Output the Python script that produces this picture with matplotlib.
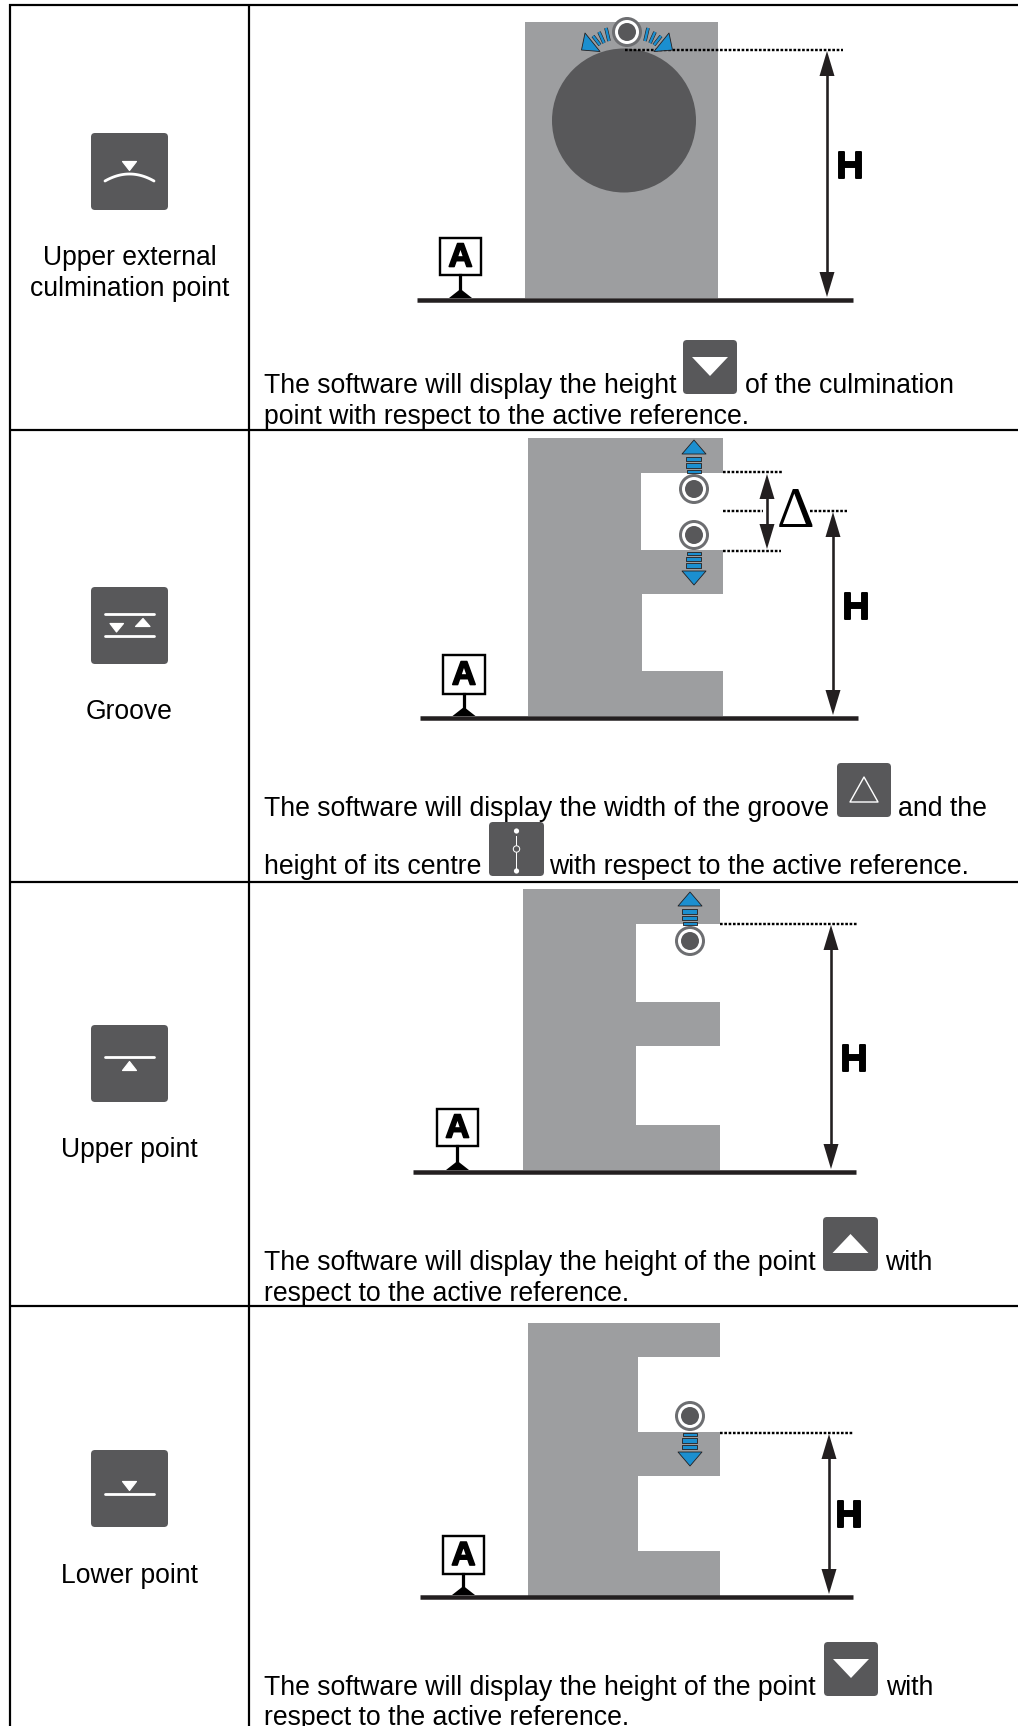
import matplotlib
matplotlib.use("Agg")
import matplotlib.pyplot as plt
import matplotlib.patheffects as pe
from matplotlib.patches import Rectangle, Circle, Polygon, FancyBboxPatch
import numpy as np

W, H_PX = 1018, 1726
GREY, DARK, BLUE, INK = "#9d9ea0", "#58585a", "#1b8fd0", "#231f20"
plt.rcParams["font.family"] = ["Liberation Sans", "DejaVu Sans"]

# table rules
row_lines = [5, 430, 882, 1306]
col_lines = [10.5, 249]
# left column
label_x = 129.5
labels = [("Upper external", 265), ("culmination point", 296), ("Groove", 719), ("Upper point", 1157), ("Lower point", 1583)]
tool_icon_tops = [133, 587, 1025, 1450]
# body text: (text, x, baseline)
body = [
    ("The software will display the height", 264, 393),
    ("of the culmination", 745, 393),
    ("point with respect to the active reference.", 264, 424),
    ("The software will display the width of the groove", 264, 816),
    ("and the", 898, 816),
    ("height of its centre", 264, 874),
    ("with respect to the active reference.", 549, 874),
    ("The software will display the height of the point", 264, 1270),
    ("with", 885, 1270),
    ("respect to the active reference.", 264, 1301),
    ("The software will display the height of the point", 264, 1695),
    ("with", 886, 1695),
    ("respect to the active reference.", 264, 1725),
]
# inline icons: (kind, x0, x1, y0, y1)
inline = [
    ("down", 683, 737, 340, 394),
    ("delta", 837, 891, 763, 817),
    ("centre", 489, 544, 822, 876),
    ("up", 823, 878, 1217, 1271),
    ("down", 824, 878, 1642, 1696),
]
# diagrams
blocks = [(525, 718, 22, 298), (528, 723, 438, 716), (523, 720, 889, 1170), (528, 720, 1323, 1596)]
notches = [(641, 723, 473, 550), (642, 723, 594, 671), (636, 720, 924, 1002), (636, 720, 1046, 1125),
           (638, 720, 1357, 1432), (638, 720, 1476, 1551)]
culm_circle = (624, 120.5, 72)
baselines = [(417, 853, 300), (420, 858, 718), (413, 856, 1172), (420, 853, 1597)]
ref_boxes = [(440, 481, 238, 275, 300), (443, 485, 655, 694, 718), (437, 478, 1109, 1146, 1172), (443, 484, 1536, 1574, 1597)]
dotted = [(625, 843, 50), (723, 782, 472), (723, 763, 511), (810, 847, 511), (723, 781, 551), (720, 857, 924), (720, 853, 1433)]
dim_arrows = [(827, 51, 297), (767, 474, 549), (833, 512, 715), (831, 925, 1169), (829, 1434, 1594)]
h_labels = [(850, 168), (856, 609), (854, 1061), (848.5, 1517)]
probes = [(627, 32), (694, 489), (694, 535), (690, 941), (690, 1416)]
probe_arrows = [(694, 440, 1), (694, 585, -1), (690, 892, 1), (690, 1466, -1)]
fan_wedge = [(585, 33), (581.5, 50), (600, 51.5)]
fan_bars = [((593, 36), (600, 45)), ((599, 32), (604, 43)), ((606, 28), (609, 41))]
delta_pos = (795.5, 527)

fig = plt.figure(figsize=(W / 100, H_PX / 100), dpi=100)
ax = fig.add_axes([0, 0, 1, 1])
ax.set_xlim(0, W)
ax.set_ylim(H_PX, 0)
ax.axis("off")
px = 0.72

def tri(pts, color="white", z=6, **kw):
    ax.add_patch(Polygon(pts, closed=True, facecolor=color, edgecolor=kw.get("ec", "none"),
                         lw=kw.get("lw", 0), joinstyle="round", zorder=z))

def rbox(x0, x1, y0, y1, z=5):
    r = 4
    ax.add_patch(FancyBboxPatch((x0 + r, y0 + r), x1 - x0 - 2 * r, y1 - y0 - 2 * r,
                                boxstyle=f"round,pad={r},rounding_size={r}", fc=DARK, ec="none", zorder=z))

def wline(xs, ys, lw=2.8):
    ax.plot(xs, ys, color="white", lw=lw * px, solid_capstyle="round", zorder=6)

def itri(pts):
    tri(pts, color="white", z=6, ec="white", lw=1.2 * px)

# blocks
for x0, x1, y0, y1 in blocks:
    ax.add_patch(Rectangle((x0, y0), x1 - x0, y1 - y0, fc=GREY, ec="none", zorder=1))
for x0, x1, y0, y1 in notches:
    ax.add_patch(Rectangle((x0, y0), x1 - x0 + 1, y1 - y0, fc="white", ec="none", zorder=2))
cx, cy, cr = culm_circle
ax.add_patch(Circle((cx, cy), cr, fc=DARK, ec="none", zorder=2))

# base lines
for x0, x1, y in baselines:
    ax.plot([x0, x1], [y, y], color=INK, lw=4.5 * px, solid_capstyle="butt", zorder=3)

# reference box
for x0, x1, y0, y1, base in ref_boxes:
    ax.add_patch(Rectangle((x0, y0), x1 - x0, y1 - y0, fc="white", ec="black", lw=2.4 * px, zorder=4))
    xm = (x0 + x1) / 2
    ax.plot([xm, xm], [y1, base - 6], color="black", lw=3.2 * px, zorder=4)
    tri([(xm - 11.5, base - 2), (xm + 11.5, base - 2), (xm, base - 11)], color="black", z=4)
    ax.text(xm, (y0 + y1) / 2 + 1.5, "A", ha="center", va="center", fontsize=24, fontweight="bold", color="black", zorder=5,
            path_effects=[pe.withStroke(linewidth=1.2, foreground="black")])

# dotted guides
for x0, x1, y in dotted:
    ax.plot([x0, x1], [y, y], color="black", lw=2.4 * px, linestyle=(0, (1.1, 0.7)), dash_capstyle="butt", zorder=5)

# dimension arrows
for x, y0, y1 in dim_arrows:
    ax.plot([x, x], [y0 + 8, y1 - 8], color=INK, lw=2.6 * px, solid_capstyle="butt", zorder=5)
    tri([(x, y0), (x - 7.5, y0 + 25), (x + 7.5, y0 + 25)], color=INK, z=5)
    tri([(x, y1), (x - 7.5, y1 - 25), (x + 7.5, y1 - 25)], color=INK, z=5)

for x, y in h_labels:
    ax.text(x, y, "H", ha="center", va="center", fontsize=27, fontweight="bold", color="black", zorder=5,
            path_effects=[pe.withStroke(linewidth=1.4, foreground="black")])

ax.text(delta_pos[0], delta_pos[1], "\u0394", ha="center", va="baseline", fontsize=42, color="black", zorder=5,
        family=["Liberation Serif", "DejaVu Sans"])

# blue probe arrows
for x, tip, d in probe_arrows:
    s = 1 if d == 1 else -1
    for a, b, hw in [(17, 21.5, 7.5), (23.5, 28, 7.5), (30, 33, 7)]:
        xs = [x - hw, x + hw, x + hw, x - hw]
        ys = [tip + s * a, tip + s * a, tip + s * b, tip + s * b]
        tri(list(zip(xs, ys)), color=BLUE, z=6, ec=INK, lw=0.6)
    tri([(x, tip), (x - 12, tip + s * 14), (x + 12, tip + s * 14)], color=BLUE, z=6, ec=INK, lw=0.6)

# fan around the culmination probe
mid = probes[0][0]
for sign in (1, -1):
    tri([(mid + sign * (p[0] - mid), p[1]) for p in fan_wedge], color=BLUE, z=6, ec=INK, lw=0.6)
    for a, b in fan_bars:
        xs = [mid + sign * (a[0] - mid), mid + sign * (b[0] - mid)]
        ys = [a[1], b[1]]
        ax.plot(xs, ys, color=INK, lw=3.6 * px, solid_capstyle="butt", zorder=6)
        ax.plot(xs, ys, color=BLUE, lw=2.4 * px, solid_capstyle="butt", zorder=6)

# probes
for x, y in probes:
    ax.add_patch(Circle((x, y), 15, fc="#6d6e71", ec="none", zorder=7))
    ax.add_patch(Circle((x, y), 12, fc="white", ec="none", zorder=7))
    ax.add_patch(Circle((x, y), 9, fc=DARK, ec="none", zorder=7))

# table rules
for y in row_lines:
    ax.plot([col_lines[0] - 1, W], [y, y], color="black", lw=2.2 * px, solid_capstyle="butt", zorder=9)
for x in col_lines:
    ax.plot([x, x], [row_lines[0] - 1, H_PX], color="black", lw=2.2 * px, solid_capstyle="butt", zorder=9)

# left column icons
for top in tool_icon_tops:
    rbox(91, 168, top, top + 77)
t = tool_icon_tops
u = np.linspace(-1, 1, 41)
wline(129.5 + 24.5 * u, t[0] + 48 - 7 * (1 - u ** 2))
itri([(122.5, t[0] + 28.5), (136.5, t[0] + 28.5), (129.5, t[0] + 37.5)])
wline([105, 154], [t[1] + 27, t[1] + 27])
wline([105, 154], [t[1] + 49, t[1] + 49])
itri([(110, t[1] + 36.5), (123.5, t[1] + 36.5), (116.5, t[1] + 45)])
itri([(135.5, t[1] + 39.5), (150, t[1] + 39.5), (143, t[1] + 31.5)])
wline([105, 154], [t[2] + 32, t[2] + 32])
itri([(122.5, t[2] + 45.5), (136.5, t[2] + 45.5), (129.5, t[2] + 36.5)])
wline([105, 154], [t[3] + 44, t[3] + 44])
itri([(122.5, t[3] + 31.5), (136.5, t[3] + 31.5), (129.5, t[3] + 40.5)])

for s, y in labels:
    ax.text(label_x, y, s, ha="center", va="baseline", fontsize=19.1, color="black", zorder=8)
for s, x, y in body:
    ax.text(x, y, s, ha="left", va="baseline", fontsize=19.15, color="black", zorder=8)

# inline icons
for kind, x0, x1, y0, y1 in inline:
    rbox(x0, x1, y0, y1, z=7)
    xm = (x0 + x1) / 2
    if kind == "down":
        tri([(xm - 18, y0 + 17), (xm + 18, y0 + 17), (xm, y0 + 36)], z=8)
    elif kind == "up":
        tri([(xm - 18, y0 + 36), (xm + 18, y0 + 36), (xm, y0 + 17)], z=8)
    elif kind == "delta":
        tri([(xm, y0 + 14), (xm - 14, y0 + 39), (xm + 14, y0 + 39)], color="none", ec="white", lw=1.4 * px, z=8)
    else:
        ax.plot([xm, xm], [y0 + 14, y0 + 46], color="white", lw=1 * px, zorder=8)
        for yy in (y0 + 9, y0 + 49):
            ax.add_patch(Circle((xm, yy), 2.6, fc="white", ec="none", zorder=8))
        ax.add_patch(Circle((xm, y0 + 27), 3.2, fc=DARK, ec="white", lw=1 * px, zorder=8))

fig.savefig("out.png", dpi=100)
